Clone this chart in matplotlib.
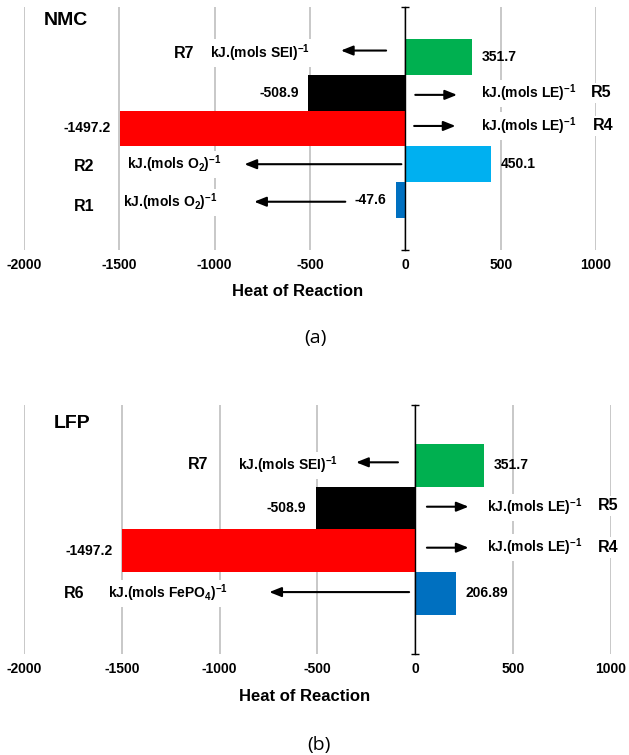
import numpy as np
import matplotlib.pyplot as plt

plt.rcParams['font.family'] = 'Liberation Sans'
plt.rcParams['font.weight'] = 'bold'
plt.rcParams['axes.unicode_minus'] = False
plt.rcParams['mathtext.fontset'] = 'custom'
plt.rcParams['mathtext.rm'] = 'Liberation Sans:bold'
plt.rcParams['mathtext.it'] = 'Liberation Sans:bold'
plt.rcParams['mathtext.bf'] = 'Liberation Sans:bold'

# ----------- data (bottom row first) --------------
x_ticks = [-2000, -1500, -1000, -500, 0, 500, 1000]

nmc_reactions = ['R1', 'R2', 'R4', 'R5', 'R7']
nmc_heat = [-47.6, 450.1, -1497.2, -508.9, 351.7]
nmc_value_labels = ['-47.6', '450.1', '-1497.2', '-508.9', '351.7']
nmc_units = ['kJ.(mols O$_2$)$^{-1}$', 'kJ.(mols O$_2$)$^{-1}$',
             'kJ.(mols LE)$^{-1}$', 'kJ.(mols LE)$^{-1}$', 'kJ.(mols SEI)$^{-1}$']
nmc_colors = ['#0070C0', '#00B0F0', '#FF0000', '#000000', '#00B050']

lfp_reactions = ['R6', 'R4', 'R5', 'R7']
lfp_heat = [206.89, -1497.2, -508.9, 351.7]
lfp_value_labels = ['206.89', '-1497.2', '-508.9', '351.7']
lfp_units = ['kJ.(mols FePO$_4$)$^{-1}$', 'kJ.(mols LE)$^{-1}$',
             'kJ.(mols LE)$^{-1}$', 'kJ.(mols SEI)$^{-1}$']
lfp_colors = ['#0070C0', '#FF0000', '#000000', '#00B050']

# ----------- annotation layout (x of name, dy name, x of unit, dy unit, arrow tail, arrow head, dy arrow) ---
nmc_layout = [(-1686, -0.17, -1232, -0.06, -315, -793, -0.05),
              (-1683, -0.07, -1210, 0.0, -21, -844, 0.0),
              (1040, 0.07, 645, 0.07, 46, 263, 0.07),
              (1026, 0.0, 645, -0.02, 52, 271, -0.06),
              (-1161, 0.11, -764, 0.11, -101, -338, 0.18)]
lfp_layout = [(-1741, 0.0, -1263, 0.0, -31, -746, 0.03),
              (986, 0.07, 613, 0.07, 60, 273, 0.07),
              (986, 0.05, 613, 0.02, 60, 273, 0.03),
              (-1112, 0.01, -652, 0.0, -88, -302, 0.07)]


def draw_panel(ax, title, title_xy, reactions, heat, value_labels, units, colors, layout, ylim):
    pos = np.arange(len(heat))
    ax.barh(pos, heat, height=1.0, color=colors, zorder=2)
    ax.set_xlim(-2000, 1000)
    ax.set_ylim(*ylim)
    ax.set_xticks(x_ticks)
    ax.xaxis.grid(True, color='#C4C4C4', lw=1.3)
    ax.set_axisbelow(True)
    for s in ['top', 'right', 'bottom']:
        ax.spines[s].set_visible(False)
    ax.spines['left'].set_position(('data', 0))
    ax.spines['left'].set_linewidth(1.0)
    ax.spines['left'].set_zorder(3)
    ax.set_yticks(list(ylim))
    ax.set_yticklabels([])
    ax.tick_params(axis='y', direction='inout', length=6, width=1)
    ax.tick_params(axis='x', length=0, labelsize=10, pad=6)
    ax.set_xlabel('Heat of Reaction', fontsize=12, fontweight='bold')
    ax.xaxis.set_label_coords(0.478, -0.169)
    ax.xaxis.label.set_va('center')

    for p, v, lab in zip(pos, heat, value_labels):
        off = 7 if v > 0 else -7
        ax.annotate(lab, xy=(v, p), xytext=(off, 0), textcoords='offset points',
                    ha='left' if v > 0 else 'right', va='center', fontsize=10, zorder=4)

    box = dict(facecolor='white', edgecolor='none', pad=2)
    for p, name, unit, lay in zip(pos, reactions, units, layout):
        nx, ndy, ux, udy, tail, head, ady = lay
        ax.text(nx, p + ndy, name, ha='center', va='center', fontsize=11.5,
                bbox=box, zorder=4)
        ax.text(ux, p + udy, unit, ha='center', va='center', fontsize=10,
                bbox=box, zorder=4)
        ax.annotate('', xy=(head, p + ady), xytext=(tail, p + ady),
                    arrowprops=dict(arrowstyle='-|>,head_length=0.55,head_width=0.22',
                                    color='black', lw=1.5, shrinkA=0, shrinkB=0,
                                    mutation_scale=13), zorder=4)

    ax.text(title_xy[0], title_xy[1], title, ha='center', va='center', fontsize=14)


fig = plt.figure(figsize=(6.29, 7.55), dpi=100)
ax1 = fig.add_axes([0.0382, 0.6689, 0.9094, 0.3219])
ax2 = fig.add_axes([0.0382, 0.1338, 0.9328, 0.3302])

draw_panel(ax1, 'NMC', (-1783, 5.03), nmc_reactions, nmc_heat, nmc_value_labels,
           nmc_units, nmc_colors, nmc_layout, (-1.4, 5.4))
draw_panel(ax2, 'LFP', (-1754, 3.98), lfp_reactions, lfp_heat, lfp_value_labels,
           lfp_units, lfp_colors, lfp_layout, (-1.42, 4.42))

fig.text(0.5008, 0.5523, '(a)', ha='center', va='center', fontsize=14,
         family='Open Sans', fontweight='normal')
fig.text(0.507, 0.0132, '(b)', ha='center', va='center', fontsize=14,
         family='Open Sans', fontweight='normal')

fig.savefig('out.png', dpi=100)
